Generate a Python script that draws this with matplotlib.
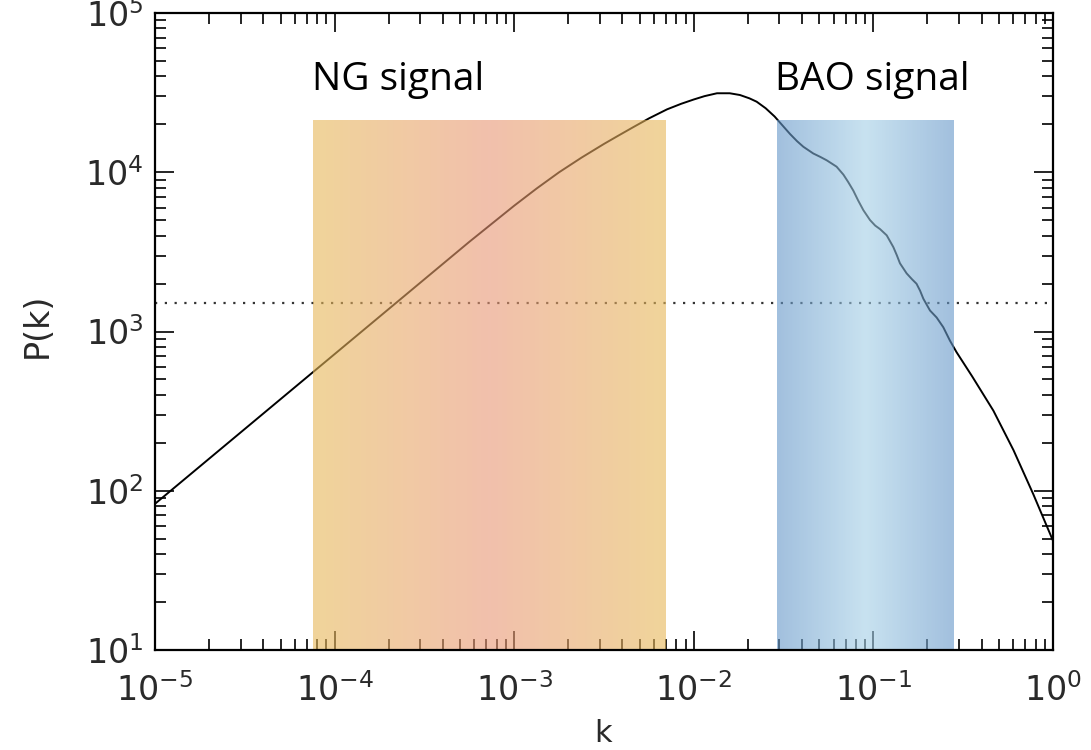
import numpy as np
import matplotlib
matplotlib.use("Agg")
import matplotlib.pyplot as plt
from matplotlib.colors import LinearSegmentedColormap

# ---- data (log10 values) ----
log_k = [-5.0, -4.5, -4.0, -3.5, -3.25, -3.0, -2.875, -2.75, -2.625, -2.5,
         -2.42, -2.339, -2.25, -2.149, -2.07, -2.0, -1.94, -1.871, -1.80,
         -1.743, -1.69, -1.65, -1.60, -1.55, -1.50, -1.464, -1.425, -1.390,
         -1.335, -1.295, -1.260, -1.205, -1.167, -1.140, -1.112, -1.085, -1.056,
         -1.019, -0.990, -0.963, -0.926, -0.889, -0.870, -0.852, -0.815, -0.785,
         -0.760, -0.740, -0.722, -0.685, -0.648, -0.611, -0.574, -0.537,
         -0.45, -0.332, -0.22, -0.110, 0.0]
log_P = [1.918, 2.388, 2.858, 3.328, 3.563, 3.790, 3.898, 4.000, 4.092, 4.178,
         4.230, 4.282, 4.338, 4.395, 4.430, 4.457, 4.478, 4.496, 4.496,
         4.485, 4.464, 4.443, 4.402, 4.350, 4.286, 4.240, 4.195, 4.160,
         4.118, 4.096, 4.075, 4.035, 3.985, 3.938, 3.885, 3.823, 3.762,
         3.700, 3.665, 3.643, 3.604, 3.530, 3.480, 3.428, 3.365, 3.328,
         3.300, 3.256, 3.206, 3.132, 3.088, 3.027, 2.943, 2.870,
         2.718, 2.503, 2.255, 1.979, 1.686]

k_values = [10 ** v for v in log_k]
P_values = [10 ** v for v in log_P]

noise_level = 1500.0           # dotted horizontal line
ng_range = [7.6e-5, 7.0e-3]    # NG signal band (k)
bao_range = [0.0292, 0.281]    # BAO signal band (k)
band_top = 2.12e4
band_bottom = 10.0
ng_label = "NG signal"
bao_label = "BAO signal"

xlim = [1e-5, 1.0]
ylim = [10.0, 1e5]

# ---- figure ----
W, H = 1091, 750
fig = plt.figure(figsize=(W / 100, H / 100), dpi=100)
ax = fig.add_axes([155 / W, 1 - 650 / H, 898 / W, 637 / H])
ax.set_xscale("log")
ax.set_yscale("log")
ax.set_xlim(xlim)
ax.set_ylim(ylim)

ax.plot(k_values, P_values, color="black", lw=1.4, zorder=2,
        solid_joinstyle="round")
ax.axhline(noise_level, color="#333333", lw=1.6, linestyle=(0, (1, 3.4)), zorder=2)

alpha = 0.6


def under(c):
    # colour to draw with alpha so that it looks like c over white
    return tuple(max(0.0, min(1.0, (ci / 255 - (1 - alpha)) / alpha)) for ci in c)


ng_cmap = LinearSegmentedColormap.from_list(
    "ng", [under((240, 212, 154)), under((242, 192, 172)), under((240, 212, 154))])
bao_cmap = LinearSegmentedColormap.from_list(
    "bao", [under((162, 192, 222)), under((200, 226, 240)), under((162, 192, 222))])


def band(rng, cmap):
    n = 200
    xe = np.logspace(np.log10(rng[0]), np.log10(rng[1]), n + 1)
    ye = np.array([band_bottom, band_top])
    c = np.linspace(0, 1, n).reshape(1, n)
    ax.pcolormesh(xe, ye, c, cmap=cmap, alpha=alpha, shading="flat",
                  edgecolors="none", linewidth=0, antialiased=False, zorder=3)


band(ng_range, ng_cmap)
band(bao_range, bao_cmap)

for s in ax.spines.values():
    s.set_linewidth(1.6)
    s.set_zorder(4)

ax.tick_params(which="both", direction="in", top=True, right=True,
               labelsize=24, width=1.2, colors="black")
ax.tick_params(which="major", length=14)
ax.tick_params(which="minor", length=8)
ax.tick_params(axis="x", which="major", pad=17)
ax.tick_params(axis="y", which="major", pad=8)
for lab in ax.get_xticklabels() + ax.get_yticklabels():
    lab.set_color("#2a2a2a")

fig.text(37 / W, 1 - 325 / H, "P(k)", rotation=90, ha="center", va="center",
         fontsize=24, color="#2a2a2a")
fig.text(603 / W, 1 - 733 / H, "k", ha="center", va="center",
         fontsize=22, color="#2a2a2a")

fig.text(312 / W, 1 - 90 / H, ng_label, family="Open Sans", fontsize=28,
         ha="left", va="baseline", color="black")
fig.text(775 / W, 1 - 90 / H, bao_label, family="Open Sans", fontsize=28,
         ha="left", va="baseline", color="black")

fig.savefig("out.png", dpi=100)
